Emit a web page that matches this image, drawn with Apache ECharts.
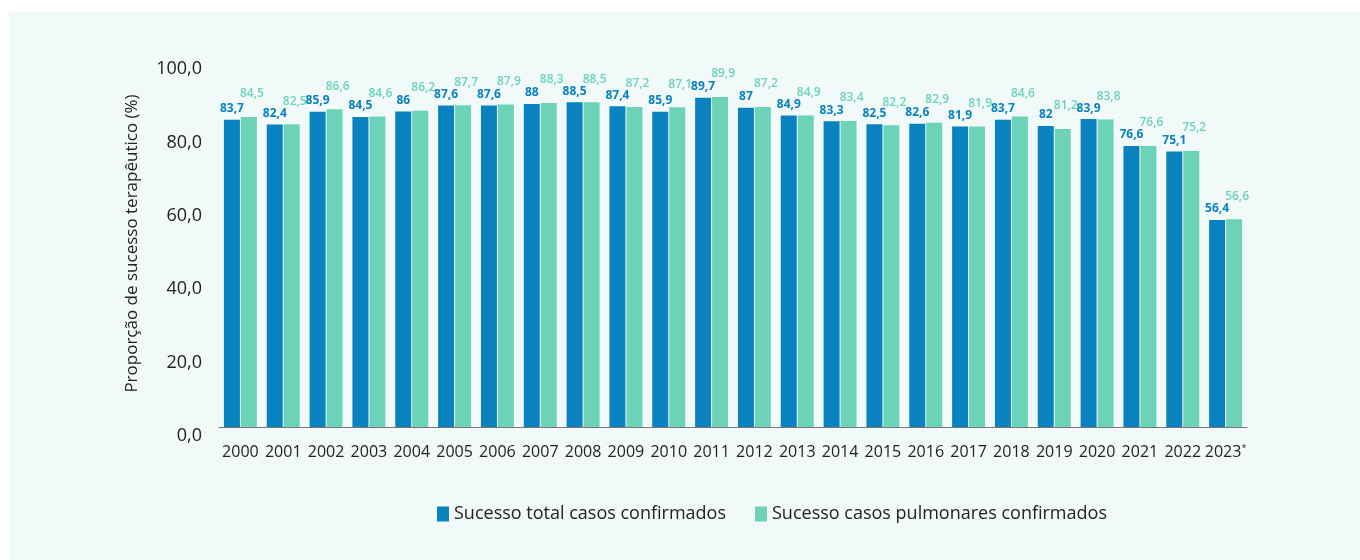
<!DOCTYPE html>
<html>
<head>
<meta charset="utf-8">
<script src="https://cdn.jsdelivr.net/npm/echarts@6/dist/echarts.min.js"></script>
<style>
  html, body { margin: 0; padding: 0; background: #ffffff; }
  #panel { position: absolute; left: 9px; top: 12px; width: 1351px; height: 548px; background: #f1faf8; }
  #chart { position: absolute; left: 0; top: 0; width: 1360px; height: 560px; }
</style>
</head>
<body>
<div id="panel"></div>
<div id="chart"></div>
<script>
const categories = ['2000','2001','2002','2003','2004','2005','2006','2007','2008','2009','2010','2011','2012','2013','2014','2015','2016','2017','2018','2019','2020','2021','2022','2023*'];
const totalConfirmados = [83.7, 82.4, 85.9, 84.5, 86, 87.6, 87.6, 88, 88.5, 87.4, 85.9, 89.7, 87, 84.9, 83.3, 82.5, 82.6, 81.9, 83.7, 82, 83.9, 76.6, 75.1, 56.4];
const pulmonaresConfirmados = [84.5, 82.5, 86.6, 84.6, 86.2, 87.7, 87.9, 88.3, 88.5, 87.2, 87.1, 89.9, 87.2, 84.9, 83.4, 82.2, 82.9, 81.9, 84.6, 81.2, 83.8, 76.6, 75.2, 56.6];
const seriesNames = ['Sucesso total casos confirmados', 'Sucesso casos pulmonares confirmados'];
const yTicks = { min: 0, max: 100, interval: 20 };

const blue = '#0982bf';
const green = '#6cd3b9';
const font = '"Open Sans", Lato, sans-serif';
const fmtComma = v => String(v).replace('.', ',');

const chart = echarts.init(document.getElementById('chart'), null, { renderer: 'canvas' });
chart.setOption({
  backgroundColor: 'transparent',
  animation: false,
  textStyle: { fontFamily: font },
  grid: { left: 219, right: 113, top: 60, bottom: 133, containLabel: false },
  legend: {
    left: 432, top: 500,
    itemWidth: 12, itemHeight: 15, itemGap: 29,
    icon: 'rect',
    textStyle: { fontSize: 18, color: '#222', fontFamily: font },
    data: seriesNames
  },
  xAxis: {
    type: 'category',
    data: categories,
    axisLine: { show: true, lineStyle: { color: '#777', width: 1 } },
    axisTick: { show: false },
    axisLabel: {
      interval: 0, margin: 17, color: '#222', fontSize: 16, fontFamily: font,
      formatter: v => v.endsWith('*') ? '{a|' + v.slice(0, -1) + '}{s|*}' : v,
      rich: {
        a: { fontSize: 16, color: '#222', fontFamily: font },
        s: { fontSize: 9, color: '#222', fontFamily: font, padding: [0, 0, 8, 0] }
      }
    }
  },
  yAxis: {
    type: 'value',
    min: yTicks.min, max: yTicks.max, interval: yTicks.interval,
    name: 'Proporção de sucesso terapêutico (%)',
    nameLocation: 'middle',
    nameGap: 78,
    nameTextStyle: { fontSize: 17, color: '#222', fontFamily: font },
    axisLine: { show: false },
    axisTick: { show: false },
    splitLine: { show: false },
    axisLabel: {
      margin: 17, color: '#222', fontSize: 18, fontFamily: font,
      verticalAlign: 'top',
      formatter: v => v.toFixed(1).replace('.', ',')
    }
  },
  series: [
    {
      name: seriesNames[0], type: 'bar', data: totalConfirmados,
      barWidth: 16, barGap: '6%',
      itemStyle: { color: blue },
      label: {
        show: true, position: 'top', distance: 5,
        color: blue, fontSize: 12, fontWeight: 'bold', fontFamily: font,
        formatter: p => fmtComma(p.value)
      }
    },
    {
      name: seriesNames[1], type: 'bar', data: pulmonaresConfirmados,
      barWidth: 16, barGap: '6%',
      itemStyle: { color: green },
      label: {
        show: true, position: 'top', distance: 17, offset: [3, 0],
        color: green, fontSize: 12, fontWeight: 600, fontFamily: font,
        formatter: p => fmtComma(p.value)
      }
    }
  ]
});
</script>
</body>
</html>
